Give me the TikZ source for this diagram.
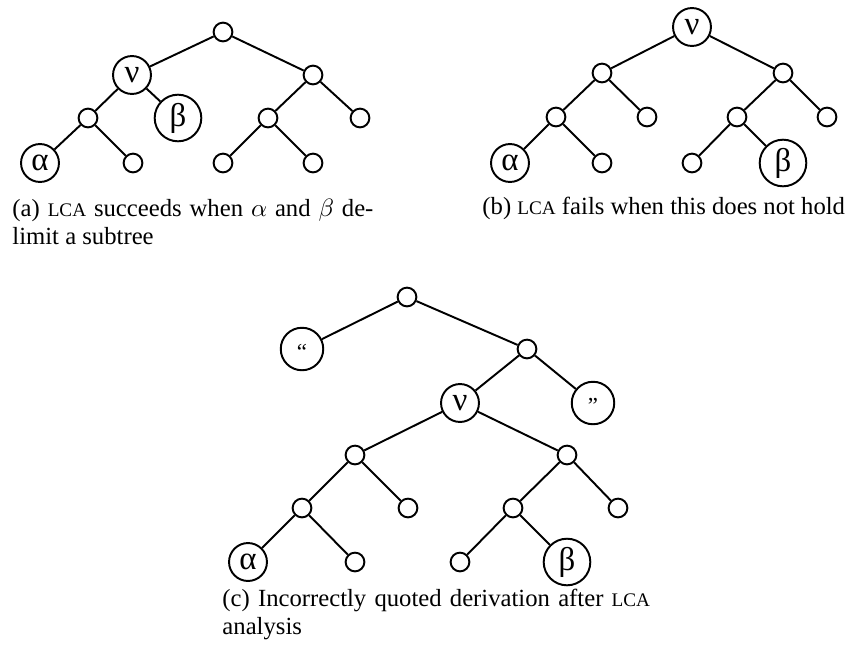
\documentclass[tikz,border=0pt]{standalone}
\usepackage{fontspec}
\setmainfont{Liberation Serif}
\newcommand\lcaname{{\fontsize{8.4pt}{10pt}\selectfont LCA}}
\tikzset{
  dot/.style={circle,draw,line width=0.85pt,inner sep=0pt,minimum size=8.2pt},
  sym/.style={circle,draw,line width=0.85pt,inner sep=0pt,minimum size=16.6pt,font=\Large},
  big/.style={sym,minimum size=20.4pt},
  quote/.style={sym,minimum size=18.6pt,font=\normalsize,text height=9pt},
  caption/.style={anchor=north west,inner sep=0pt,font=\fontsize{10.8pt}{12.3pt}\selectfont},
  branch/.style={line width=0.85pt}
}
\begin{document}
\begin{tikzpicture}[x=0.01538cm,y=-0.01538cm]
                \useasboundingbox (0,0) rectangle (845,651);
                %% (a) alpha and beta below nu
                \node[dot] (a0) at (223,32) {};
                \node[sym] (anu) at (132,75) {ν};
                \node[dot] (a1) at (313,75) {};
                \node[dot] (a2) at (88,118) {};
                \node[big] (abeta) at (178,118) {β};
                \node[dot] (a3) at (268,118) {};
                \node[dot] (a4) at (360,118) {};
                \node[sym] (aalpha) at (40,163) {α};
                \node[dot] (a5) at (133,163) {};
                \node[dot] (a6) at (223,163) {};
                \node[dot] (a7) at (313,163) {};
                \draw[branch] (a0) -- (anu) (a0) -- (a1);
                \draw[branch] (anu) -- (a2) (anu) -- (abeta);
                \draw[branch] (a1) -- (a3) (a1) -- (a4);
                \draw[branch] (a2) -- (aalpha) (a2) -- (a5);
                \draw[branch] (a3) -- (a6) (a3) -- (a7);
                \node[caption,text width=361*0.01538cm,align=justify] (capa) at (12,199)
                  {(a) \lcaname{} succeeds when $\alpha$ and $\beta$ de-\linebreak limit a subtree};
                %% (b) nu at the root
                \node[sym] (bnu) at (692,27) {ν};
                \node[dot] (b1) at (602,73) {};
                \node[dot] (b2) at (783,73) {};
                \node[dot] (b3) at (556,117) {};
                \node[dot] (b4) at (647,117) {};
                \node[dot] (b5) at (737,117) {};
                \node[dot] (b6) at (827,117) {};
                \node[sym] (balpha) at (510,163) {α};
                \node[dot] (b7) at (602,163) {};
                \node[dot] (b8) at (692,163) {};
                \node[big] (bbeta) at (783,163) {β};
                \draw[branch] (bnu) -- (b1) (bnu) -- (b2);
                \draw[branch] (b1) -- (b3) (b1) -- (b4);
                \draw[branch] (b2) -- (b5) (b2) -- (b6);
                \draw[branch] (b3) -- (balpha) (b3) -- (b7);
                \draw[branch] (b5) -- (b8) (b5) -- (bbeta);
                \node[caption] (capb) at (482,197) {(b) \lcaname{} fails when this does not hold};
                %% (c) quotes around nu
                \node[dot] (c0) at (407,297) {};
                \node[quote] (copen) at (302,349) {``};
                \node[dot] (c1) at (527,349) {};
                \node[sym] (cnu) at (460,403) {ν};
                \node[quote] (cclose) at (593,403) {''};
                \node[dot] (c2) at (355,455) {};
                \node[dot] (c3) at (567,455) {};
                \node[dot] (c4) at (302,508) {};
                \node[dot] (c5) at (408,508) {};
                \node[dot] (c6) at (513,508) {};
                \node[dot] (c7) at (618,508) {};
                \node[sym] (calpha) at (248,562) {α};
                \node[dot] (c8) at (355,562) {};
                \node[dot] (c9) at (460,562) {};
                \node[big] (cbeta) at (567,562) {β};
                \draw[branch] (c0) -- (copen) (c0) -- (c1);
                \draw[branch] (c1) -- (cnu) (c1) -- (cclose);
                \draw[branch] (cnu) -- (c2) (cnu) -- (c3);
                \draw[branch] (c2) -- (c4) (c2) -- (c5);
                \draw[branch] (c3) -- (c6) (c3) -- (c7);
                \draw[branch] (c4) -- (calpha) (c4) -- (c8);
                \draw[branch] (c6) -- (c9) (c6) -- (cbeta);
                \node[caption,text width=470*0.01538cm,align=left] (capc) at (222,589)
                  {(c) Incorrectly quoted derivation after \lcaname\\analysis};
            \end{tikzpicture}
\end{document}
